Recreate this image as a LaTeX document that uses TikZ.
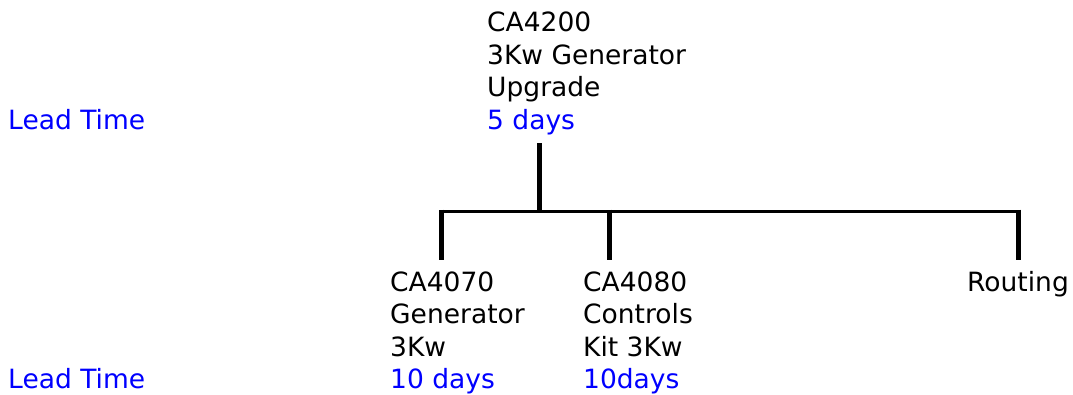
\documentclass[tikz,border=0pt]{standalone}
\usepackage{fontspec}
\setmainfont{DejaVu Sans}
\begin{document}
\begin{tikzpicture}[x=1pt,y=-1pt,
  txt/.style={anchor=base west, inner sep=0pt, align=left, font=\fontsize{26.5}{32.5}\selectfont},
  lead/.style={txt, text=blue},
  bar/.style={line width=5pt},
  busline/.style={line width=3pt}]
\useasboundingbox (0,0) rectangle (1073,394);
% texts (anchored at the baseline of their last line)
\node[txt] (top) at (487,129) {CA4200\\3Kw Generator\\Upgrade\\\textcolor{blue}{5 days}};
\node[lead] (lt1) at (8,129) {Lead Time};
\node[lead] (lt2) at (8,388.5) {Lead Time};
\node[txt] (c1) at (390,388.5) {CA4070\\Generator\\3Kw\\\textcolor{blue}{10 days}};
\node[txt] (c2) at (583,388.5) {CA4080\\Controls\\Kit 3Kw\\\textcolor{blue}{10days}};
\node[txt] (c3) at (967,291) {Routing};
% connector points
\coordinate (topend) at (539,143);
\coordinate (jn) at (539,211);
\coordinate (bl) at (441,211);
\coordinate (bm) at (609,211);
\coordinate (br) at (1018,211);
\coordinate (c1end) at (441,260);
\coordinate (c2end) at (609,260);
\coordinate (c3end) at (1018,260);
\draw[bar] (topend) -- ([yshift=1.5pt]jn);
\draw[busline] (bl) -- (br);
\draw[bar] ([yshift=1.5pt]bl) -- (c1end);
\draw[bar] ([yshift=1.5pt]bm) -- (c2end);
\draw[bar] ([yshift=1.5pt]br) -- (c3end);
\end{tikzpicture}
\end{document}
